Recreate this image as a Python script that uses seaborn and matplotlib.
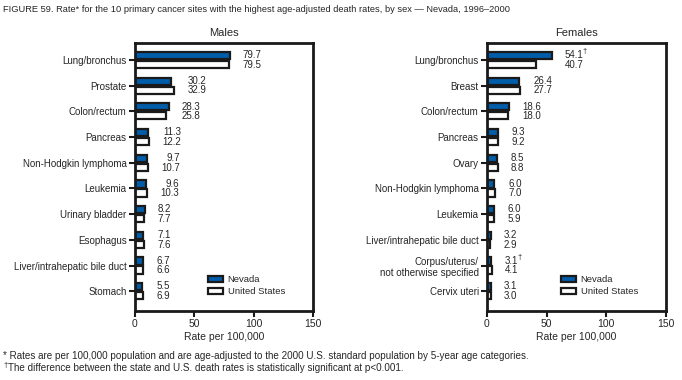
import matplotlib
matplotlib.use("Agg")
import matplotlib.pyplot as plt
from matplotlib.patches import Patch
import seaborn as sns
import pandas as pd

males_sites = ["Lung/bronchus", "Prostate", "Colon/rectum", "Pancreas",
               "Non-Hodgkin lymphoma", "Leukemia", "Urinary bladder",
               "Esophagus", "Liver/intrahepatic bile duct", "Stomach"]
males_nv = [79.7, 30.2, 28.3, 11.3, 9.7, 9.6, 8.2, 7.1, 6.7, 5.5]
males_us = [79.5, 32.9, 25.8, 12.2, 10.7, 10.3, 7.7, 7.6, 6.6, 6.9]
males_sig = [False] * 10

females_sites = ["Lung/bronchus", "Breast", "Colon/rectum", "Pancreas", "Ovary",
                 "Non-Hodgkin lymphoma", "Leukemia", "Liver/intrahepatic bile duct",
                 "Corpus/uterus/\nnot otherwise specified", "Cervix uteri"]
females_nv = [54.1, 26.4, 18.6, 9.3, 8.5, 6.0, 6.0, 3.2, 3.1, 3.1]
females_us = [40.7, 27.7, 18.0, 9.2, 8.8, 7.0, 5.9, 2.9, 4.1, 3.0]
females_sig = [True, False, False, False, False, False, False, False, True, False]

series = ["Nevada", "United States"]
xticks = [0, 50, 100, 150]

BLUE = "#005daa"
FONT = ["Liberation Sans", "DejaVu Sans"]

sns.set_style("white")
plt.rcParams["font.family"] = FONT

fig = plt.figure(figsize=(6.82, 3.80), dpi=100)
ax_m = fig.add_axes([135 / 682, 1 - 311 / 380, 178 / 682, 268 / 380])
ax_f = fig.add_axes([487 / 682, 1 - 311 / 380, 179 / 682, 268 / 380])


def panel(ax, title, sites, nv, us, sig):
    df = pd.DataFrame({
        "site": sites * 2,
        "rate": nv + us,
        "area": [series[0]] * len(sites) + [series[1]] * len(sites),
    })
    sns.barplot(data=df, y="site", x="rate", hue="area", hue_order=series,
                order=sites, palette=[BLUE, "white"], width=0.7, gap=0.2,
                edgecolor="#1a1a1a", linewidth=1.6, saturation=1,
                orient="h", ax=ax, legend=False, errorbar=None)
    ax.set_xlim(0, 150)
    ax.set_ylim(9.77, -0.66)
    ax.set_xticks(xticks)
    ax.set_xticklabels([str(t) for t in xticks], fontsize=7.5)
    ax.tick_params(axis="x", direction="out", length=4, width=1.5,
                   color="#1a1a1a", pad=2, bottom=True)
    ax.tick_params(axis="y", direction="out", length=4, width=1.5,
                   color="#1a1a1a", pad=2, left=True, labelsize=7)
    for lab in ax.get_yticklabels():
        lab.set_multialignment("right")
    ax.set_ylabel("")
    ax.set_xlabel("Rate per 100,000", fontsize=7.5, labelpad=2)
    ax.set_title(title, fontsize=8, pad=5)
    for sp in ax.spines.values():
        sp.set_visible(True)
        sp.set_linewidth(2.0)
        sp.set_color("#1a1a1a")
    for i, (a, b, s) in enumerate(zip(nv, us, sig)):
        t = ax.annotate(f"{a:.1f}\n{b:.1f}", xy=(max(a, b), i + 0.0),
                        xytext=(9.5, 0), textcoords="offset points",
                        ha="left", va="center", multialignment="right",
                        fontsize=7, linespacing=0.95)
        if s:
            ax.annotate("\u2020", xy=(1, 1), xycoords=t, xytext=(-0.8, 1.5),
                        textcoords="offset points", ha="left", va="top",
                        fontsize=5.5)
    handles = [Patch(facecolor=BLUE, edgecolor="#1a1a1a", linewidth=1.6),
               Patch(facecolor="white", edgecolor="#1a1a1a", linewidth=1.6)]
    ax.legend(handles, series, loc="lower right", bbox_to_anchor=(0.88, 0.03),
              frameon=False, fontsize=6.8, handlelength=1.6, handleheight=0.55,
              handletextpad=0.5, labelspacing=0.35, borderpad=0.2)


panel(ax_m, "Males", males_sites, males_nv, males_us, males_sig)
panel(ax_f, "Females", females_sites, females_nv, females_us, females_sig)

fig.text(3 / 682, 1 - 10 / 380,
         "FIGURE 59. Rate* for the 10 primary cancer sites with the highest "
         "age-adjusted death rates, by sex \u2014 Nevada, 1996\u20132000",
         fontsize=6.7, va="center", ha="left")
fig.text(3 / 682, 1 - 356 / 380,
         "* Rates are per 100,000 population and are age-adjusted to the 2000 "
         "U.S. standard population by 5-year age categories.",
         fontsize=7.15, va="center", ha="left")
fig.text(3 / 682, 1 - 365 / 380, "\u2020", fontsize=5.5, va="center", ha="left")
fig.text(8 / 682, 1 - 368 / 380,
         "The difference between the state and U.S. death rates is "
         "statistically significant at p<0.001.",
         fontsize=7.15, va="center", ha="left")

fig.savefig("out.png", dpi=100)
